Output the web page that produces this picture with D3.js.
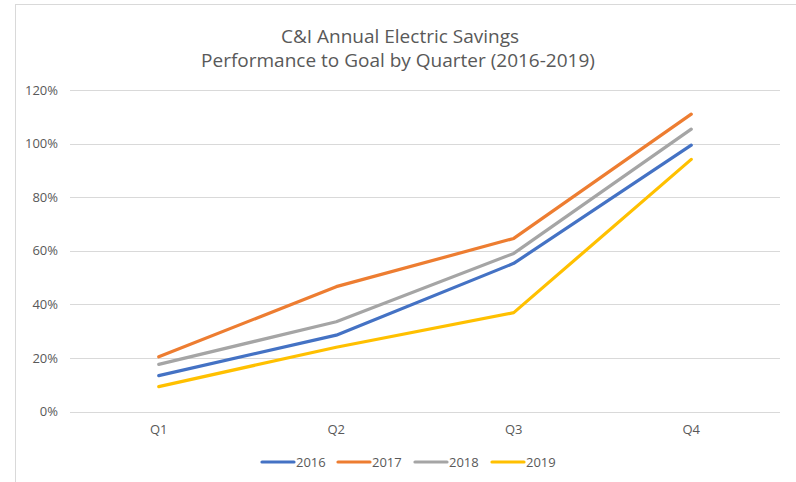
<!DOCTYPE html>
<html>
<head>
<meta charset="utf-8">
<script src="https://cdn.jsdelivr.net/npm/d3@7"></script>
<style>
  body { margin: 0; background: #fff; }
  svg text { font-family: "Open Sans", "Liberation Sans", sans-serif; fill: #595959; }
</style>
</head>
<body>
<svg id="chart"></svg>
<script>
// --------------------- data ---------------------
const quarters = ["Q1", "Q2", "Q3", "Q4"];
const years = ["2016", "2017", "2018", "2019"];
const values2016 = [0.134, 0.285, 0.553, 0.994];
const values2017 = [0.204, 0.466, 0.646, 1.11];
const values2018 = [0.176, 0.335, 0.59, 1.054];
const values2019 = [0.093, 0.24, 0.369, 0.941];
const yTicks = [0, 0.2, 0.4, 0.6, 0.8, 1.0, 1.2];
const colors = ["#4472C4", "#ED7D31", "#A5A5A5", "#FFC000"];

const series = [values2016, values2017, values2018, values2019].map((v, i) => ({
  year: years[i], color: colors[i], values: v
}));

// --------------------- layout ---------------------
const width = 796, height = 482;
const plotLeft = 70, plotRight = 780, plotTop = 90, plotBottom = 411.5;

const svg = d3.select("#chart")
  .attr("width", width)
  .attr("height", height);

// chart border
svg.append("rect")
  .attr("x", 15.5).attr("y", 4.5)
  .attr("width", 800).attr("height", 500)
  .attr("fill", "none")
  .attr("stroke", "#d9d9d9");

const xScale = d3.scaleBand().domain(quarters).range([plotLeft, plotRight]);
const yScale = d3.scaleLinear().domain([0, 1.2]).range([plotBottom, plotTop]);

// title
const title = svg.append("text")
  .attr("text-anchor", "middle")
  .style("font-size", "19px");
title.append("tspan").attr("x", 400).attr("y", 43).text("C&I Annual Electric Savings");
title.append("tspan").attr("x", 398).attr("y", 67).text("Performance to Goal by Quarter (2016-2019)");

// grid lines
svg.append("g")
  .selectAll("line")
  .data(yTicks)
  .join("line")
  .attr("x1", plotLeft)
  .attr("x2", plotRight)
  .attr("y1", d => Math.round(yScale(d)) + 0.5)
  .attr("y2", d => Math.round(yScale(d)) + 0.5)
  .attr("stroke", "#d9d9d9");

// y axis labels
const yAxis = svg.append("g")
  .attr("transform", "translate(" + (plotLeft - 12) + ",0)")
  .call(d3.axisLeft(yScale).tickValues(yTicks).tickFormat(d3.format(".0%")).tickSize(0).tickPadding(0));
yAxis.select(".domain").remove();
yAxis.selectAll("text").style("font-size", "13px").attr("fill", "#595959");

// x axis labels
const xAxis = svg.append("g")
  .attr("transform", "translate(0," + plotBottom + ")")
  .call(d3.axisBottom(xScale).tickSize(0).tickPadding(13));
xAxis.select(".domain").remove();
xAxis.selectAll("text").style("font-size", "13px").attr("fill", "#595959");

// lines
const line = d3.line()
  .x((d, i) => xScale(quarters[i]) + xScale.bandwidth() / 2)
  .y(d => yScale(d));

svg.append("g")
  .selectAll("path")
  .data(series)
  .join("path")
  .attr("d", d => line(d.values))
  .attr("fill", "none")
  .attr("stroke", d => d.color)
  .attr("stroke-width", 3.2)
  .attr("stroke-linecap", "round")
  .attr("stroke-linejoin", "round");

// legend
const legendX = [262, 338, 415, 492];
const legend = svg.append("g")
  .selectAll("g")
  .data(series)
  .join("g")
  .attr("transform", (d, i) => "translate(" + legendX[i] + ",462)");
legend.append("line")
  .attr("x1", 0).attr("x2", 32)
  .attr("stroke", d => d.color)
  .attr("stroke-width", 3.2)
  .attr("stroke-linecap", "round");
legend.append("text")
  .attr("x", 34).attr("y", 5)
  .style("font-size", "13px")
  .text(d => d.year);
</script>
</body>
</html>
